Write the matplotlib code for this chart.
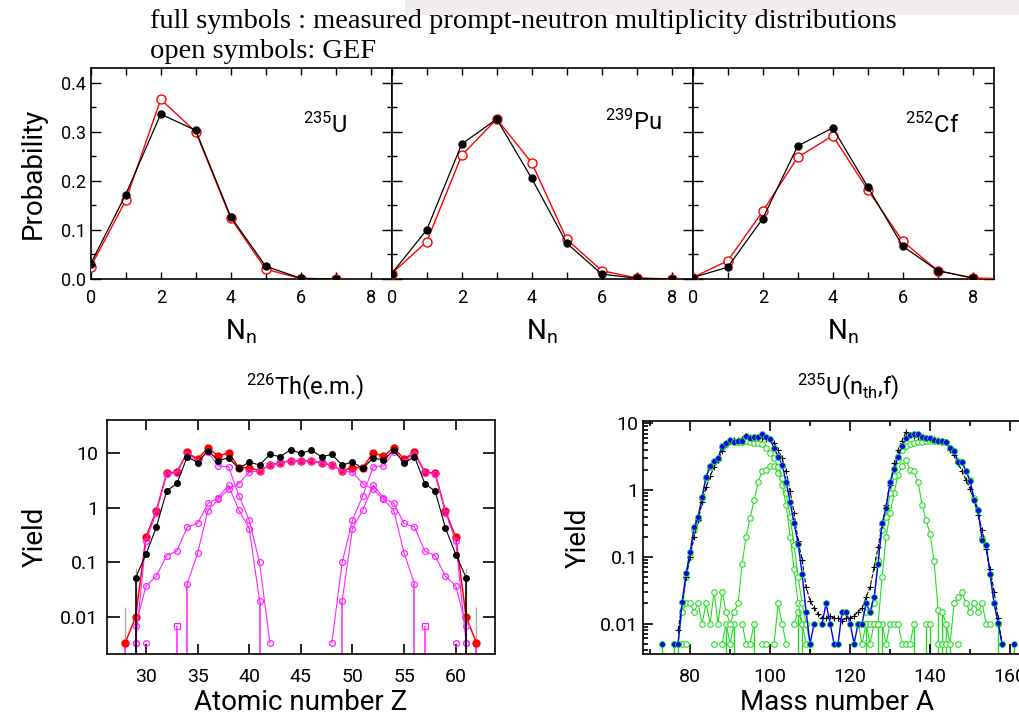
import numpy as np
import matplotlib
matplotlib.use("Agg")
import matplotlib.pyplot as plt
from matplotlib.ticker import MultipleLocator, FixedLocator, NullFormatter, LogLocator, NullLocator
from matplotlib.patches import Rectangle

nan = np.nan

# ---------------- top: prompt-neutron multiplicity ----------------
n_values = [0, 1, 2, 3, 4, 5, 6, 7, 8, 9]
u235_meas = [0.031, 0.172, 0.336, 0.303, 0.127, 0.026, 0.0014, 0.0001, nan, nan]
u235_gef = [0.025, 0.160, 0.366, 0.300, 0.124, 0.020, 0.001, 0.0, nan, nan]
pu239_meas = [0.011, 0.100, 0.275, 0.326, 0.205, 0.073, 0.010, 0.0014, 0.0, nan]
pu239_gef = [0.011, 0.076, 0.252, 0.326, 0.237, 0.081, 0.017, 0.002, 0.0, nan]
cf252_meas = [0.003, 0.024, 0.123, 0.271, 0.308, 0.188, 0.067, 0.017, 0.002, nan]
cf252_gef = [0.003, 0.037, 0.138, 0.248, 0.292, 0.182, 0.077, 0.017, 0.002, 0.0003]
top_labels = ["$^{235}$U", "$^{239}$Pu", "$^{252}$Cf"]

# ---------------- bottom left: 226Th(e.m.) element yields ----------------
th_z = list(range(28, 63))
th_meas = [nan, 0.053, 0.141, 0.44, 2.04, 2.82, 8.7, 6.8, 11.3, 7.4, 8.3, 5.3, 7.0, 6.1, 9.6, 8.7, 11.7,
           10.0, 11.5, 8.7, 9.6, 6.1, 7.0, 5.3, 8.3, 7.5, 11.5, 6.7, 8.7, 2.8, 2.04, 0.43, 0.14, 0.053, nan]
th_gef = [0.0034, 0.01, 0.29, 0.88, 4.3, 4.6, 10.4, 7.8, 12.7, 8.9, 10.3, 5.5, 5.5, 4.8, 6.1, 6.7, 7.4,
          7.2, 7.4, 6.7, 6.1, 4.8, 5.5, 5.5, 10.3, 8.9, 12.7, 7.8, 10.4, 4.6, 4.3, 0.88, 0.29, 0.01, 0.0034]
th_mode_sym = [nan, nan, nan, nan, nan, nan, 0.041, 0.148, 0.89, 1.44, 2.2, 2.8, 4.5, 4.8, 6.1, 6.7, 7.4,
               7.2, 7.4, 6.7, 6.1, 4.8, 4.5, 2.8, 2.2, 1.44, 0.89, 0.148, 0.041, nan, nan, nan, nan, nan, nan]
th_mode_s1 = [nan, 0.0034, 0.25, 0.82, 4.17, 4.44, 9.9, 7.1, 10.6, 5.9, 5.7, 1.68, 0.6, 0.1, 0.0034, nan, nan,
              nan, nan, nan, 0.0034, 0.1, 0.6, 1.68, 5.7, 5.9, 10.6, 7.1, 9.9, 4.44, 4.17, 0.82, 0.25, 0.0034, nan]
th_mode_s2 = [nan, 0.0069, 0.037, 0.056, 0.133, 0.162, 0.45, 0.52, 1.21, 1.55, 2.6, 0.91, 0.42, 0.02, nan, nan, nan,
              nan, nan, nan, nan, 0.02, 0.42, 0.91, 2.6, 1.55, 1.21, 0.52, 0.45, 0.162, 0.133, 0.056, 0.037, 0.0069, nan]
th_rare_z = [29, 30, 60, 61]
th_rare = [0.0034, 0.0034, 0.0034, 0.0034]
th_sq_z = [33, 57]
th_sq = [0.0069, 0.0069]
th_drop_z = [28, 29, 33, 34, 41, 49, 56, 57, 61, 62]
th_drop_top = [0.0034, 0.0069, 0.0069, 0.041, 0.02, 0.02, 0.041, 0.0069, 0.0069, 0.0034]
th_err_z = [28, 29, 61, 62]
th_err_hi = [0.0155, 0.08, 0.08, 0.0155]

# ---------------- bottom right: 235U(nth,f) mass yields ----------------
mass_a = list(range(72, 163))
u_meas = [nan, nan, nan, nan, nan, 0.008, 0.02, 0.05, 0.1, 0.2,
          0.35, 0.65, 1.1, 1.6, 2.2, 2.8, 3.8, 4.8, 5.5, 5.6,
          5.7, 5.9, 6.5, 6.3, 6.1, 6.0, 6.0, 5.9, 5.8, 5.0,
          4.0, 3.0, 1.9, 0.95, 0.45, 0.17, 0.09, 0.035, 0.022, 0.017,
          0.014, 0.012, 0.012, 0.013, 0.012, 0.012, 0.011, 0.012, 0.012, 0.013,
          0.015, 0.017, 0.025, 0.035, 0.07, 0.14, 0.3, 0.6, 1.2, 2.5,
          4.0, 5.5, 7.5, 6.6, 6.4, 6.3, 6.2, 6.0, 5.9, 5.8,
          5.6, 5.5, 5.3, 4.0, 3.3, 2.5, 1.9, 1.4, 1.05, 0.7,
          0.42, 0.25, 0.13, 0.065, 0.03, 0.012, 0.005, nan, nan, nan,
          nan]
u_gef = [nan, 0.005, nan, nan, 0.005, 0.005, 0.021, 0.057, 0.118, 0.275,
         0.40, 0.78, 1.59, 2.27, 2.73, 3.0, 4.5, 5.0, 5.6, 5.3,
         5.4, 5.5, 6.5, 6.0, 6.3, 6.2, 6.9, 6.3, 5.75, 4.2,
         3.16, 2.4, 1.33, 0.67, 0.316, 0.158, 0.056, 0.015, 0.005, 0.01,
         nan, 0.01, 0.02, 0.01, 0.005, 0.005, 0.015, 0.015, 0.01, 0.005,
         0.01, 0.01, 0.02, 0.015, 0.025, 0.079, 0.316, 0.53, 1.33, 2.04,
         3.16, 4.5, 6.0, 6.7, 6.9, 6.9, 6.2, 6.0, 6.0, 5.6,
         5.5, 5.4, 5.3, 4.2, 3.8, 2.66, 2.6, 1.9, 1.38, 0.71,
         0.51, 0.18, 0.15, 0.055, 0.02, 0.0102, 0.005, nan, nan, 0.005,
         nan]
u_mode_s1 = [nan, nan, nan, nan, 0.005, 0.005, 0.015, 0.05, 0.1, 0.25,
             0.37, 0.75, 1.5, 2.2, 2.6, 2.9, 4.4, 4.9, 5.4, 5.2,
             5.3, 5.3, 5.4, 5.3, 5.1, 5.0, 4.8, 4.3, 3.6, 3.0,
             2.2, 1.5, 0.9, 0.4, 0.15, 0.05, 0.02, 0.01, 0.005, nan,
             nan, nan, nan, nan, nan, nan, nan, nan, nan, nan,
             nan, nan, 0.015, 0.015, 0.02, 0.09, 0.25, 0.4, 0.9, 1.6,
             2.8, 4.0, 4.6, 4.9, 5.1, 5.2, 5.3, 5.4, 5.5, 5.5,
             5.4, 5.3, 5.2, 4.2, 3.8, 2.7, 2.6, 1.9, 1.4, 0.75,
             0.5, 0.19, 0.15, 0.055, 0.02, 0.01, 0.005, nan, nan, nan,
             nan]
u_mode_s2 = [nan, nan, nan, nan, nan, nan, 0.015, 0.02, 0.02, 0.015,
             0.02, 0.01, 0.02, 0.01, 0.03, 0.01, 0.03, 0.015, 0.01, 0.015,
             0.02, 0.078, 0.2, 0.38, 0.7, 1.3, 1.9, 2.0, 2.3, 2.3,
             1.8, 1.2, 0.6, 0.2, 0.065, 0.02, 0.01, nan, nan, nan,
             nan, nan, nan, nan, nan, nan, nan, nan, nan, nan,
             0.01, 0.01, 0.01, 0.01, 0.01, 0.01, 0.05, 0.2, 0.45, 0.9,
             1.7, 2.3, 2.8, 2.0, 1.9, 1.3, 0.6, 0.35, 0.22, 0.085,
             0.016, 0.015, 0.01, 0.005, 0.02, 0.025, 0.03, 0.02, 0.015, 0.02,
             0.015, 0.02, 0.01, 0.01, nan, nan, nan, nan, nan, nan,
             nan]
u_mode_s3 = [nan, nan, nan, nan, nan, nan, 0.005, 0.005, nan, nan,
             nan, nan, nan, nan, 0.005, nan, 0.005, 0.01, 0.005, 0.01,
             nan, 0.01, 0.005, 0.005, 0.01, nan, 0.005, 0.005, nan, 0.005,
             0.02, 0.01, 0.005, nan, 0.01, 0.015, 0.01, 0.005, 0.005, nan,
             nan, nan, nan, nan, nan, nan, nan, nan, nan, nan,
             0.01, 0.005, 0.01, 0.005, 0.01, 0.01, 0.01, 0.005, 0.01, 0.01,
             0.01, 0.005, 0.005, 0.005, 0.01, nan, nan, 0.01, 0.01, nan,
             0.005, 0.005, 0.005, nan, nan, 0.005, nan, nan, nan, nan,
             nan, nan, nan, nan, nan, nan, nan, nan, nan, nan,
             nan]
u_drop_a = [73, 76, 77, 89, 91, 96, 107, 108, 110, 124, 127, 128, 136, 139, 140, 142, 143, 144, 145, 157, 161]
u_drop_top = [0.005, 0.005, 0.005, 0.01, 0.01, 0.01, 0.015, 0.01, 0.005, 0.01, 0.01, 0.01, 0.01, 0.01, 0.01,
              0.016, 0.015, 0.01, 0.005, 0.01, 0.005]

# ---------------- style ----------------
plt.rcParams['font.family'] = ['Roboto', 'DejaVu Sans']
plt.rcParams['mathtext.fontset'] = 'custom'
plt.rcParams['mathtext.rm'] = 'Roboto'
plt.rcParams['mathtext.it'] = 'Roboto:italic'
plt.rcParams['mathtext.bf'] = 'Roboto:bold'
plt.rcParams['axes.linewidth'] = 1.2

W, H = 1020, 716
fig = plt.figure(figsize=(W / 100, H / 100), dpi=100)


def fx(px):
    return px / W


def fy(py):
    return 1 - py / H


fig.patches.append(Rectangle((fx(405), fy(15)), fx(1020) - fx(405), 15 / H, transform=fig.transFigure,
                             facecolor='#f1eded', edgecolor='none', zorder=0))
fig.text(fx(150), fy(21), "full symbols : measured prompt-neutron multiplicity distributions",
         family='Liberation Serif', fontsize=20.5, va='center', ha='left')
fig.text(fx(150), fy(51), "open symbols: GEF", family='Liberation Serif', fontsize=20.5, va='center', ha='left')

# top panels
lefts = [90.7, 391.7, 692.7]
top_data = [(u235_meas, u235_gef), (pu239_meas, pu239_gef), (cf252_meas, cf252_gef)]
label_pos = [(6.7, 0.313), (6.9, 0.319), (6.85, 0.313)]
for i, (l, (meas, gef)) in enumerate(zip(lefts, top_data)):
    ax = fig.add_axes([fx(l), fy(279), 301 / W, 211 / H])
    ax.plot(n_values, gef, color='red', lw=1.0, marker='o', ms=6.5, mfc='white', mec='red', mew=1.0, zorder=3)
    ax.plot(n_values, meas, color='black', lw=0.9, marker='o', ms=5, mfc='black', mec='black', zorder=4)
    ax.set_xlim(0, 8.6)
    ax.set_ylim(0, 0.43)
    ax.xaxis.set_major_locator(MultipleLocator(2))
    ax.xaxis.set_minor_locator(MultipleLocator(1))
    ax.yaxis.set_major_locator(MultipleLocator(0.1))
    ax.yaxis.set_minor_locator(MultipleLocator(0.05))
    ax.tick_params(which='both', direction='in', top=True, right=True, width=1.0, labelsize=13)
    ax.tick_params(axis='x', which='both', length=5, pad=7)
    ax.tick_params(axis='y', which='major', length=7)
    ax.tick_params(axis='y', which='minor', length=3.5)
    ax.set_xticks([0, 2, 4, 6, 8])
    ax.set_xticklabels(['0', '2', '4', '6', '8'])
    if i == 0:
        ax.set_yticklabels([f"{v:.1f}" for v in ax.get_yticks()])
        ax.set_ylabel("Probability", fontsize=20, labelpad=10)
    else:
        ax.yaxis.set_major_formatter(NullFormatter())
    ax.set_xlabel("N$_{\\mathrm{n}}$", fontsize=20, labelpad=8)
    ax.text(label_pos[i][0], label_pos[i][1], top_labels[i], fontsize=17, ha='center', va='center')

# bottom left
ax = fig.add_axes([fx(106.7), fy(654), 388.3 / W, 234 / H])
ymin_l = 0.0021
ax.set_yscale('log')
ax.set_xlim(26.2, 63.8)
ax.set_ylim(ymin_l, 41)
mag = '#ff22ff'
ax.vlines(th_err_z, ymin_l, th_err_hi, color='#aaaaaa', lw=0.9, zorder=1)
ax.vlines(th_drop_z, ymin_l, th_drop_top, color=mag, lw=1.1, zorder=2)
ax.plot(th_z, th_gef, color='red', lw=1.1, marker='o', ms=5, mfc='red', mec='red', zorder=3)
for curve in (th_mode_sym, th_mode_s1, th_mode_s2):
    ax.plot(th_z, curve, color=mag, lw=0.8, marker='o', ms=4.2, mfc='none', mec=mag, mew=0.9, zorder=4)
ax.plot(th_rare_z, th_rare, ls='none', marker='o', ms=4.2, mfc='none', mec=mag, mew=0.9, zorder=4)
ax.plot(th_sq_z, th_sq, ls='none', marker='s', ms=3.8, mfc='none', mec=mag, mew=0.9, zorder=4)
ax.plot(th_z, th_meas, color='black', lw=0.8, marker='o', ms=4, mfc='black', mec='black', zorder=5)
ax.vlines([29, 61], ymin_l, [0.053, 0.053], color='black', lw=1.2, zorder=5)
ax.yaxis.set_major_locator(FixedLocator([0.01, 0.1, 1, 10]))
ax.yaxis.set_minor_locator(NullLocator())
ax.set_yticklabels(['0.01', '0.1', '1', '10'])
ax.set_xticks([30, 35, 40, 45, 50, 55, 60])
ax.tick_params(which='both', direction='in', top=True, right=True, width=1.2, labelsize=14)
ax.tick_params(axis='y', length=9, pad=6)
ax.tick_params(axis='x', length=7, pad=10)
ax.set_xlabel("Atomic number Z", fontsize=20, labelpad=2)
ax.set_ylabel("Yield", fontsize=20, labelpad=8)
fig.text(fx(305), fy(387), "$^{226}$Th(e.m.)", fontsize=17, ha='center', va='center')

# bottom right
ax = fig.add_axes([fx(643.3), fy(654), 386.8 / W, 233.3 / H])
ymin_r = 0.0035
grn = '#22dd22'
ax.set_yscale('log')
ax.set_xlim(68.3, 165)
ax.set_ylim(ymin_r, 10.9)
ax.vlines(u_drop_a, ymin_r, u_drop_top, color=grn, lw=1.0, zorder=1)
for curve in (u_mode_s3, u_mode_s2, u_mode_s1):
    ax.plot(mass_a, curve, color=grn, lw=0.8, marker='o', ms=4, mfc='white', mec=grn, mew=0.8, zorder=2)
ax.plot(mass_a, u_meas, color='black', lw=0.8, ls=(0, (4, 1.5)), marker='+', ms=5, mew=0.8, zorder=3)
ax.plot(mass_a, u_gef, color='blue', lw=1.0, marker='o', ms=4.2, mfc='blue', mec=grn, mew=0.6, zorder=4)
ax.yaxis.set_major_locator(FixedLocator([0.01, 0.1, 1, 10]))
ax.yaxis.set_minor_locator(LogLocator(base=10, subs=np.arange(2, 10)))
ax.yaxis.set_minor_formatter(NullFormatter())
ax.set_yticklabels(['0.01', '0.1', '1', '10'])
ax.set_xticks([80, 100, 120, 140, 160])
ax.xaxis.set_minor_locator(MultipleLocator(10))
ax.tick_params(which='both', direction='in', top=True, right=True, width=1.2, labelsize=14)
ax.tick_params(which='major', length=7)
ax.tick_params(which='minor', length=3.5)
ax.tick_params(axis='x', pad=10)
ax.set_xlabel("Mass number A", fontsize=20, labelpad=2)
ax.set_ylabel("Yield", fontsize=20, labelpad=6)
fig.text(fx(848), fy(387), "$^{235}$U(n$_{\\mathrm{th}}$,f)", fontsize=17, ha='center', va='center')

fig.savefig("out.png", dpi=100)
